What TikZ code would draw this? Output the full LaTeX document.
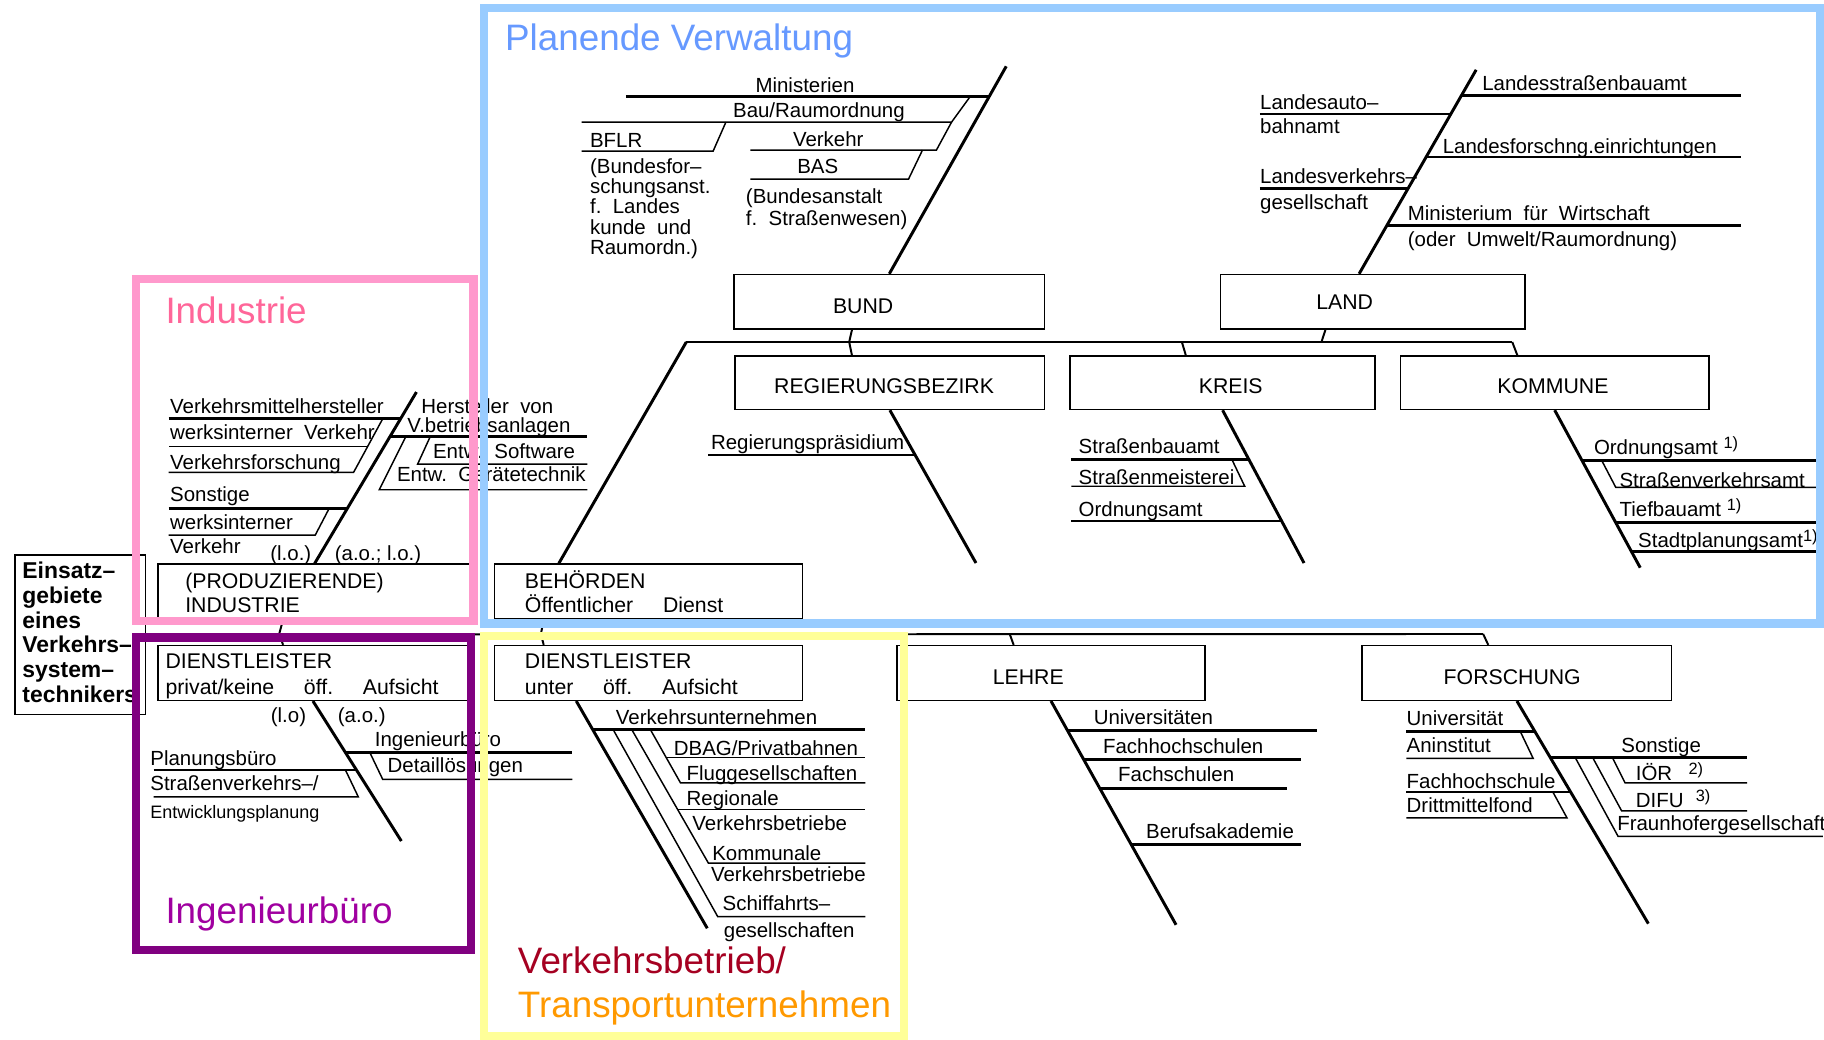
\documentclass[tikz,border=0pt]{standalone}
\usepackage{fontspec}
\setmainfont{Liberation Sans}
\usetikzlibrary{fit,calc}
\newcommand{\lueck}{\hspace{1.4em}}
\newcommand{\hoch}[1]{\raisebox{0.55ex}{\fontsize{10}{10}\selectfont #1}}
\definecolor{rahmenblau}{RGB}{153,204,255}
\definecolor{titelblau}{RGB}{102,153,255}
\definecolor{rahmenrosa}{RGB}{255,153,204}
\definecolor{titelrosa}{RGB}{255,102,153}
\definecolor{rahmenlila}{RGB}{128,0,128}
\definecolor{titellila}{RGB}{160,0,160}
\definecolor{rahmengelb}{RGB}{255,255,153}
\definecolor{titelrot}{RGB}{165,0,33}
\definecolor{titelorange}{RGB}{255,153,0}

\begin{document}
\begin{tikzpicture}[x=0.025cm, y=-0.025cm,
    kasten/.style={draw, line width=0.9pt, inner sep=0pt},
    ktext/.style={inner sep=0pt, yshift=-1.5pt, font=\fontsize{13}{13}\selectfont},
    beschr/.style={inner sep=0pt, anchor=mid west, yshift=-1.5pt, font=\fontsize{12.5}{12.5}\selectfont},
    klein/.style={inner sep=0pt, anchor=mid west, yshift=-1.5pt, font=\fontsize{11}{11}\selectfont},
    grat/.style={line width=1.8pt},
    dick/.style={line width=1.6pt},
    duenn/.style={line width=0.9pt},
    balken/.style={line width=1.2pt},
    rahmen/.style={line width=5pt},
    titel/.style={inner sep=0pt, anchor=base west, font=\fontsize{22.5}{27}\selectfont}]
    \useasboundingbox (0,0) rectangle (1568,894);
    \fill[white] (0,0) rectangle (1568,894);

    \node[kasten, fit={(631,236) (898,283)}] (bund) {};
    \node[kasten, fit={(1049,236) (1311,283)}] (land) {};
    \node[kasten, fit={(632,306) (898,352)}] (regbez) {};
    \node[kasten, fit={(920,306) (1182,352)}] (kreis) {};
    \node[kasten, fit={(1204,306) (1469,352)}] (kommune) {};
    \node[kasten, fit={(425,485) (690,532)}] (behoerden) {};
    \node[kasten, fit={(136,485) (405,532)}] (prod) {};
    \node[kasten, fit={(13,477) (125,614)}] (einsatz) {};
    \node[kasten, fit={(136,555) (402,602)}] (dlprivat) {};
    \node[kasten, fit={(425,555) (690,602)}] (dlunter) {};
    \node[kasten, fit={(771,555) (1036,602)}] (lehre) {};
    \node[kasten, fit={(1171,555) (1437,602)}] (forschung) {};

    \node[ktext] (bundt) at (742,261) {BUND};
    \node[ktext] (landt) at (1156,258) {LAND};
    \node[ktext] (regbezt) at (760,330) {REGIERUNGSBEZIRK};
    \node[ktext] (kreist) at (1058,330) {KREIS};
    \node[ktext] (kommunet) at (1335,330) {KOMMUNE};
    \node[ktext, anchor=mid west] (behoerdent1) at (451,500) {BEHÖRDEN};
    \node[ktext, anchor=mid west] (behoerdent2) at (451,521) {Öffentlicher\lueck Dienst};
    \node[ktext, anchor=mid west] (prodt1) at (159,500) {(PRODUZIERENDE)};
    \node[ktext, anchor=mid west] (prodt2) at (159,521) {INDUSTRIE};
    \node[ktext, anchor=mid west] (dlprivatt1) at (142,569) {DIENSTLEISTER};
    \node[ktext, anchor=mid west] (dlprivatt2) at (142,591) {privat/keine\lueck öff.\lueck Aufsicht};
    \node[ktext, anchor=mid west] (dluntert1) at (451,569) {DIENSTLEISTER};
    \node[ktext, anchor=mid west] (dluntert2) at (451,591) {unter\lueck öff.\lueck Aufsicht};
    \node[ktext] (lehret) at (884,580) {LEHRE};
    \node[ktext] (forschungt) at (1300,580) {FORSCHUNG};
    \node[inner sep=0pt, anchor=base west, align=left, font=\fontsize{14}{15.2}\selectfont\bfseries] (einsatzt) at (19,604) {Einsatz–\\gebiete\\eines\\Verkehrs–\\system–\\technikers};

    \coordinate (oben) at (590,294);
    \coordinate (obenende) at (1300,294);
    \coordinate (jbund) at (730,294);
    \coordinate (jland) at (1136,294);
    \coordinate (jkreis) at (1016,294);
    \draw[balken] (oben) -- (obenende);
    \draw[balken] ($(bund.south west)+(102,0)$) -- (jbund) -- ($(regbez.north west)+(101,0)$);
    \draw[balken] ($(land.south west)+(91,0)$) -- (jland);
    \draw[balken] (jkreis) -- ($(kreis.north west)+(100,0)$);
    \draw[balken] (obenende) -- ($(kommune.north west)+(101,0)$);
    \draw[grat] (oben) -- ($(behoerden.north west)+(56,0)$);

    \coordinate (untenende) at (1275,545);
    \coordinate (jind) at (240,545);
    \coordinate (jbeh) at (465,545);
    \coordinate (jlehre) at (868,545);
    \draw[balken] (einsatz.east) -- (untenende);
    \draw[balken] ($(prod.south west)+(108,0)$) -- (jind) -- ($(dlprivat.north west)+(108,0)$);
    \draw[balken] ($(behoerden.south west)+(43,0)$) -- (jbeh) -- ($(dlunter.north west)+(43,0)$);
    \draw[balken] (jlehre) -- ($(lehre.north west)+(101,0)$);
    \draw[balken] (untenende) -- ($(forschung.north west)+(109,0)$);

    % Bund
    \coordinate (bundspitze) at (865,57);
    \draw[grat] (bund.north) -- (bundspitze);
    \draw[dick] (538,83) -- (850,83);
    \draw[duenn] (834,83) -- (818,105) -- (500,105);
    \draw[duenn] (818,105) -- (805,129) -- (645,129);
    \draw[duenn] (624,105) -- (613,130) -- (500,130);
    \draw[duenn] (793,129) -- (781,154) -- (645,154);
    \node[beschr, anchor=mid] (min) at (692,74) {Ministerien};
    \node[beschr, anchor=mid] (bau) at (704,95) {Bau/Raumordnung};
    \node[beschr] (bflr) at (507,121) {BFLR};
    \node[beschr, anchor=base west, align=left] (bflrlang) at (507,217) {(Bundesfor–\\schungsanst.\\f.\ \ Landes\\kunde\ \ und\\Raumordn.)};
    \node[beschr, anchor=mid] (verk) at (712,120) {Verkehr};
    \node[beschr, anchor=mid] (bas) at (703,143) {BAS};
    \node[beschr, anchor=base west, align=left, font=\fontsize{12.5}{13.5}\selectfont] (baslang) at (641,192) {(Bundesanstalt\\f.\ \ Straßenwesen)};

    % Land
    \coordinate (landspitze) at (1269,60);
    \draw[grat] ($(land.north west)+(120,0)$) -- (landspitze);
    \draw[dick] (1257,82) -- (1497,82);
    \draw[dick] (1083,98) -- (1247,98);
    \draw[dick] (1226,135) -- (1497,135);
    \draw[dick] (1083,162) -- (1211,162);
    \draw[dick] (1193,194) -- (1497,194);
    \node[beschr] (lsba) at (1274,72) {Landesstraßenbauamt};
    \node[beschr] (laba1) at (1083,88) {Landesauto–};
    \node[beschr] (laba2) at (1083,109) {bahnamt};
    \node[beschr] (lfe) at (1240,126) {Landesforschng.einrichtungen};
    \node[beschr] (lvg1) at (1083,152) {Landesverkehrs–};
    \node[beschr] (lvg2) at (1083,174) {gesellschaft};
    \node[beschr] (mfw1) at (1210,184) {Ministerium\ \ für\ \ Wirtschaft};
    \node[beschr] (mfw2) at (1210,206) {(oder\ \ Umwelt/Raumordnung)};

    % Regierungsbezirk, Kreis, Kommune
    \coordinate (regbezende) at (839,484);
    \draw[grat] (regbez.south) -- (regbezende);
    \draw[dick] (609,391) -- (787,391);
    \node[beschr] (regp) at (611,381) {Regierungspräsidium};

    \coordinate (kreisende) at (1121,484);
    \draw[grat] (kreis.south) -- (kreisende);
    \draw[dick] (921,395) -- (1074,395);
    \draw[duenn] (1059,395) -- (1070,418) -- (921,418);
    \draw[dick] (921,448) -- (1102,448);
    \node[beschr] (sba) at (927,384) {Straßenbauamt};
    \node[beschr] (smei) at (927,411) {Straßenmeisterei};
    \node[beschr] (oak) at (927,438) {Ordnungsamt};

    \coordinate (kommuneende) at (1410,488);
    \draw[grat] (kommune.south) -- (kommuneende);
    \draw[dick] (1360,396) -- (1562,396);
    \draw[duenn] (1377,396) -- (1389,419) -- (1562,419);
    \draw[dick] (1389,449) -- (1562,449);
    \draw[dick] (1402,474) -- (1562,474);
    \node[beschr] (oag) at (1370,385) {Ordnungsamt\ \hoch{1)}};
    \node[beschr] (sva) at (1392,413) {Straßenverkehrsamt};
    \node[beschr] (tba) at (1392,438) {Tiefbauamt\ \hoch{1)}};
    \node[beschr] (spa) at (1408,465) {Stadtplanungsamt\hoch{1)}};

    % Industrie
    \coordinate (prodspitze) at (358,337);
    \draw[grat] (prod.north) -- (prodspitze);
    \draw[dick] (145,360) -- (344,360);
    \draw[duenn] (329,360) -- (304,406) -- (145,406);
    \draw[duenn] (316,384) -- (145,384);
    \draw[dick] (145,437) -- (299,437);
    \draw[duenn] (283,437) -- (271,460) -- (145,460);
    \draw[dick] (336,375) -- (505,375);
    \draw[duenn] (370,375) -- (359,399) -- (505,399);
    \draw[duenn] (349,375) -- (326,421) -- (505,421);
    \node[beschr] (vmh) at (146,350) {Verkehrsmittelhersteller};
    \node[beschr] (wiv) at (146,372) {werksinterner\ \ Verkehr};
    \node[beschr] (vf) at (146,398) {Verkehrsforschung};
    \node[beschr] (sonst1) at (146,425) {Sonstige};
    \node[beschr] (wiv1) at (146,449) {werksinterner};
    \node[beschr] (wiv2) at (146,470) {Verkehr};
    \node[beschr, anchor=mid] (lo1) at (250,476) {(l.o.)};
    \node[beschr, anchor=mid] (aolo) at (325,476) {(a.o.;\ l.o.)};
    \node[beschr] (hvb1) at (362,350) {Hersteller\ \ von};
    \node[beschr] (hvb2) at (350,366) {V.betriebsanlagen};
    \node[beschr] (ews) at (372,388) {Entw.\ \ Software};
    \node[beschr] (egt) at (341,408) {Entw.\ \ Gerätetechnik};

    % Dienstleister privat
    \coordinate (dlprivatende) at (345,723);
    \draw[grat] (dlprivat.south) -- (dlprivatende);
    \draw[dick] (297,647) -- (492,647);
    \draw[duenn] (318,647) -- (329,670) -- (492,670);
    \draw[dick] (132,662) -- (307,662);
    \draw[duenn] (297,662) -- (308,685) -- (132,685);
    \node[beschr, anchor=mid] (lo2) at (248,615) {(l.o)};
    \node[beschr, anchor=mid] (ao) at (311,615) {(a.o.)};
    \node[beschr] (ingb) at (322,636) {Ingenieurbüro};
    \node[beschr] (dtl) at (333,658) {Detaillösungen};
    \node[beschr] (plb) at (129,652) {Planungsbüro};
    \node[beschr] (svp) at (129,674) {Straßenverkehrs–/};
    \node[klein] (ewp) at (129,698) {Entwicklungsplanung};

    % Dienstleister unter oeff. Aufsicht
    \coordinate (dlunterende) at (608,798);
    \draw[grat] ($(dlunter.south west)+(71,0)$) -- (dlunterende);
    \draw[dick] (510,627) -- (744,627);
    \draw[duenn] (559,627) -- (585,673) -- (744,673);
    \draw[duenn] (573,651) -- (744,651);
    \draw[duenn] (543,627) -- (609,742) -- (744,742);
    \draw[duenn] (583,696) -- (744,696);
    \draw[duenn] (527,627) -- (617,788) -- (744,788);
    \node[beschr, anchor=mid] (vu) at (616,617) {Verkehrsunternehmen};
    \node[beschr] (dbag) at (579,644) {DBAG/Privatbahnen};
    \node[beschr] (flug) at (590,665) {Fluggesellschaften};
    \node[beschr] (reg1) at (590,687) {Regionale};
    \node[beschr] (reg2) at (595,708) {Verkehrsbetriebe};
    \node[beschr] (kom1) at (612,734) {Kommunale};
    \node[beschr] (kom2) at (611,752) {Verkehrsbetriebe};
    \node[beschr] (sch1) at (621,777) {Schiffahrts–};
    \node[beschr] (sch2) at (622,800) {gesellschaften};

    % Lehre
    \coordinate (lehreende) at (1011,795);
    \draw[grat] (lehre.south) -- (lehreende);
    \draw[dick] (918,628) -- (1132,628);
    \draw[dick] (932,653) -- (1118,653);
    \draw[dick] (946,678) -- (1106,678);
    \draw[dick] (972,726) -- (1118,726);
    \node[beschr] (uni) at (940,617) {Universitäten};
    \node[beschr] (fhs) at (948,642) {Fachhochschulen};
    \node[beschr] (fs) at (961,666) {Fachschulen};
    \node[beschr] (ba) at (985,715) {Berufsakademie};

    % Forschung
    \coordinate (forschungende) at (1417,794);
    \draw[grat] (forschung.south) -- (forschungende);
    \draw[dick] (1209,629) -- (1320,629);
    \draw[duenn] (1307,629) -- (1318,652) -- (1209,652);
    \draw[dick] (1209,681) -- (1350,681);
    \draw[duenn] (1335,681) -- (1347,703) -- (1209,703);
    \draw[dick] (1333,651) -- (1502,651);
    \draw[duenn] (1386,651) -- (1397,673) -- (1502,673);
    \draw[duenn] (1369,651) -- (1394,697) -- (1502,697);
    \draw[duenn] (1354,651) -- (1391,719) -- (1567,719);
    \node[beschr] (unif) at (1209,618) {Universität};
    \node[beschr] (anin) at (1209,641) {Aninstitut};
    \node[beschr] (fhsf) at (1209,672) {Fachhochschule};
    \node[beschr] (dmf) at (1209,693) {Drittmittelfond};
    \node[beschr, anchor=mid] (sonst2) at (1428,641) {Sonstige};
    \node[beschr] (ioer) at (1406,665) {IÖR\hspace{0.8em}\hoch{2)}};
    \node[beschr] (difu) at (1406,688) {DIFU\hspace{0.6em}\hoch{3)}};
    \node[beschr] (fhg) at (1390,708) {Fraunhofergesellschaft};

    % Bereiche
    \draw[rahmen, rahmenblau] (416,7) rectangle (1565,536);
    \draw[rahmen, rahmenrosa] (117,240) rectangle (407,534);
    \draw[rahmen, rahmenlila] (117,548) rectangle (405,817);
    \draw[rahmen, rahmengelb] (416,547) rectangle (777,891);
    \node[titel, titelblau] (tplan) at (434,43) {Planende Verwaltung};
    \node[titel, titelrosa] (tind) at (142,278) {Industrie};
    \node[titel, titellila] (ting) at (142,794) {Ingenieurbüro};
    \node[titel, titelrot] (tverk) at (445,837) {Verkehrsbetrieb/};
    \node[titel, titelorange] (ttrans) at (445,875) {Transportunternehmen};
\end{tikzpicture}
\end{document}
